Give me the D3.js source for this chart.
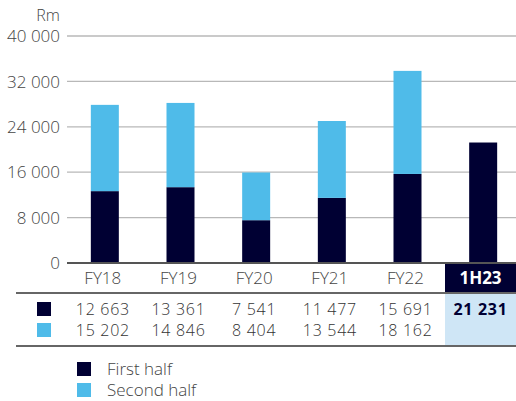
<!DOCTYPE html>
<html><head><meta charset="utf-8">
<script src="https://cdn.jsdelivr.net/npm/d3@7"></script>
<style>body{margin:0;background:#fff}svg{display:block}text{font-family:"Open Sans",sans-serif}</style>
</head><body><svg id="c" width="516" height="401"></svg>
<script>
const categories = ["FY18","FY19","FY20","FY21","FY22","1H23"];
const firstHalf = [12663,13361,7541,11477,15691,21231];
const secondHalf = [15202,14846,8404,13544,18162,null];
const yTicks = [0,8000,16000,24000,32000,40000];
const seriesNames = ["First half","Second half"];
const colors = ["#000033","#4fbbe9"];

const svg = d3.select("#c");
const fmt = v => v==null ? "" : d3.format(",")(v).replace(/,/g," ");
const x = d3.scaleBand().domain(categories).range([67,521]).paddingInner(0.63).paddingOuter(0.315);
const y = d3.scaleLinear().domain([0,40000]).range([263,36]);
const LW = 300;

svg.append("g").selectAll("line").data(yTicks.filter(d=>d>0)).join("line")
  .attr("x1",67).attr("x2",516).attr("y1",d=>y(d)).attr("y2",d=>y(d))
  .attr("stroke","#b8b8b8").attr("stroke-width",1.3);
svg.append("g").selectAll("text").data(yTicks).join("text")
  .attr("x",60).attr("y",d=>y(d)).attr("dy","0.36em").attr("text-anchor","end")
  .attr("font-size",17).attr("font-weight",LW).attr("fill","#444").text(d=>fmt(d));
svg.append("text").attr("x",60).attr("y",15).attr("dy","0.36em").attr("text-anchor","end")
  .attr("font-size",16).attr("font-weight",LW).attr("fill","#444").text("Rm");

const bw = x.bandwidth();
svg.append("g").selectAll("rect").data(categories).join("rect")
  .attr("x",d=>x(d)).attr("width",bw)
  .attr("y",(d,i)=>y(firstHalf[i])).attr("height",(d,i)=>y(0)-y(firstHalf[i]))
  .attr("fill",colors[0]);
svg.append("g").selectAll("rect").data(categories.filter((d,i)=>secondHalf[i]!=null)).join("rect")
  .attr("x",d=>x(d)).attr("width",bw)
  .attr("y",d=>{const i=categories.indexOf(d);return y(firstHalf[i]+secondHalf[i]);})
  .attr("height",d=>{const i=categories.indexOf(d);return y(firstHalf[i])-y(firstHalf[i]+secondHalf[i]);})
  .attr("fill",colors[1]);

const last = categories[categories.length-1];
const hx = 445;
svg.append("rect").attr("x",hx).attr("y",263).attr("width",516-hx).attr("height",30).attr("fill","#000033");
svg.append("rect").attr("x",hx).attr("y",293).attr("width",516-hx).attr("height",53).attr("fill","#cfe6f6");

svg.append("line").attr("x1",67).attr("x2",516).attr("y1",263).attr("y2",263).attr("stroke","#555").attr("stroke-width",2);
svg.append("line").attr("x1",16).attr("x2",516).attr("y1",293).attr("y2",293).attr("stroke","#666").attr("stroke-width",2);
svg.append("line").attr("x1",16).attr("x2",516).attr("y1",346).attr("y2",346).attr("stroke","#666").attr("stroke-width",2);

const cx = d => d===last ? (hx+516)/2 : x(d)+bw/2-2;
svg.append("g").selectAll("text").data(categories).join("text")
  .attr("x",cx).attr("y",278).attr("dy","0.36em").attr("text-anchor","middle")
  .attr("font-size",17).attr("font-weight",d=>d===last?700:LW)
  .attr("fill",d=>d===last?"#fff":"#444").text(d=>d);

[firstHalf, secondHalf].forEach((arr,r)=>{
  const ry = 309 + r*21;
  svg.append("rect").attr("x",37).attr("y",ry-7).attr("width",14).attr("height",14).attr("fill",colors[r]);
  svg.append("g").selectAll("text").data(categories).join("text")
    .attr("x",cx).attr("y",ry).attr("dy","0.36em").attr("text-anchor","middle")
    .attr("font-size",16).attr("letter-spacing",0.7).attr("font-weight",d=>d===last?700:LW)
    .attr("fill",d=>d===last?"#000033":"#333").text((d,i)=>fmt(arr[i]));
});

seriesNames.forEach((n,i)=>{
  const ly = 369 + i*21;
  svg.append("rect").attr("x",77).attr("y",ly-7).attr("width",14).attr("height",14).attr("fill",colors[i]);
  svg.append("text").attr("x",107).attr("y",ly).attr("dy","0.36em").attr("font-size",17).attr("font-weight",LW).attr("fill","#444").text(n);
});
</script></body></html>
